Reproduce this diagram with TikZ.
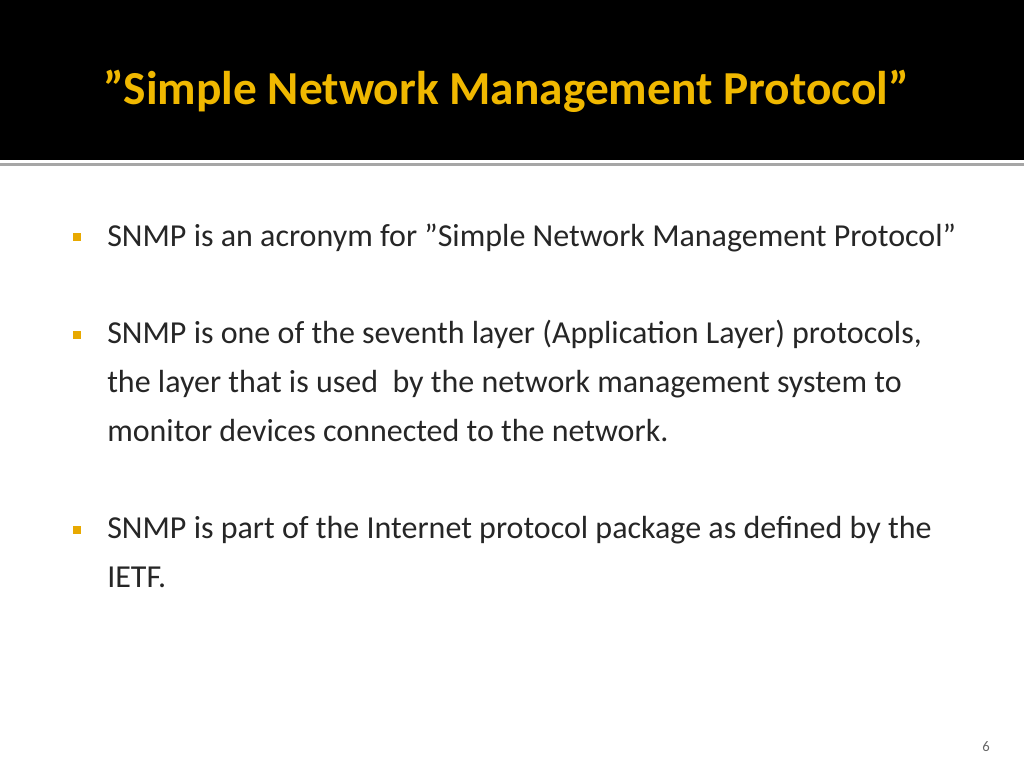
\documentclass[tikz,border=0pt]{standalone}
\usepackage{fontspec}
\setmainfont{Carlito}
\newcommand{\dq}{\symbol{34}}
\definecolor{titleyellow}{HTML}{F0B800}
\definecolor{bulletyellow}{HTML}{E8A900}
\begin{document}
\begin{tikzpicture}[x=0.75pt,y=-0.75pt,
  body/.style={anchor=base west,inner sep=0,font=\fontsize{24pt}{28pt}\selectfont,text=black!85},
  bul/.style={fill=bulletyellow,minimum size=6pt,inner sep=0}]
\useasboundingbox (0,0) rectangle (1024,768);
\fill[black] (0,0) rectangle (1024,160);
\fill[black!35] (0,163) rectangle (1024,166);
\node[anchor=base west,inner sep=0,text=titleyellow,font=\bfseries\fontsize{35.5pt}{40pt}\selectfont] (title) at (103,104) {\dq Simple Network Management Protocol\dq};
\node[bul] (b1) at (77,237) {};
\node[body] (t1) at (107,246) {SNMP is an acronym for \dq Simple Network Management Protocol\dq};
\node[bul] (b2) at (77,335) {};
\node[body] (t2a) at (107,343) {SNMP is one of the seventh layer (Application Layer) protocols,};
\node[body] (t2b) at (107,392) {the layer that is used\ \ by the network management system to};
\node[body] (t2c) at (107,441) {monitor devices connected to the network.};
\node[bul] (b3) at (77,530) {};
\node[body] (t3a) at (107,538) {SNMP is part of the Internet protocol package as defined by the};
\node[body] (t3b) at (107,587) {IETF.};
\node[anchor=base,inner sep=0,text=black!60,font=\fontsize{11pt}{13pt}\selectfont] (pg) at (986,751) {6};
\end{tikzpicture}
\end{document}
